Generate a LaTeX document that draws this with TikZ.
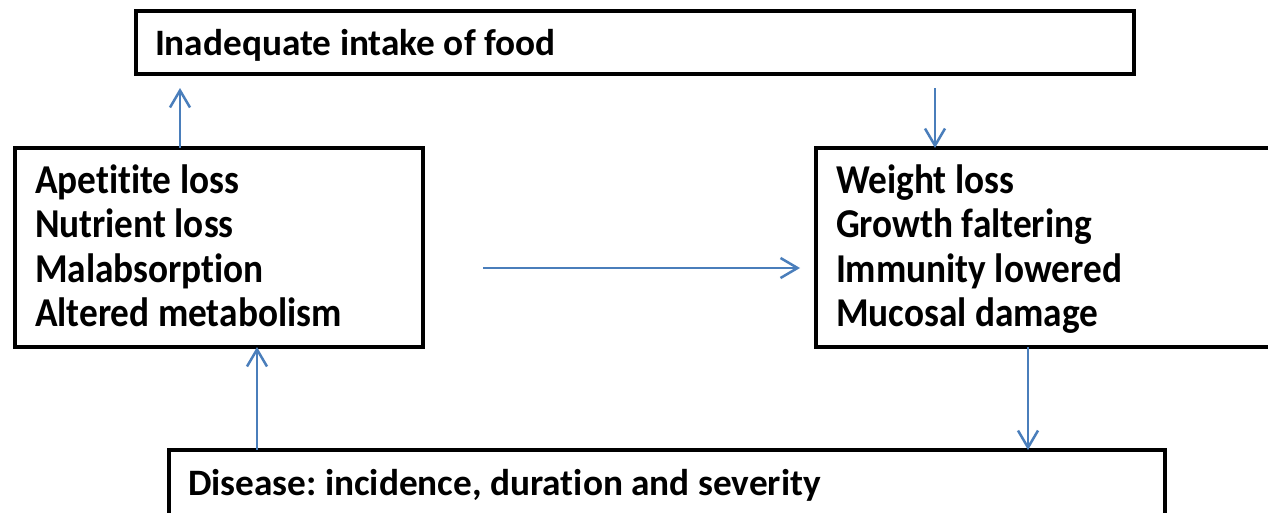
\documentclass[tikz,border=0pt]{standalone}
\usepackage{fontspec}
\setmainfont[Ligatures=NoCommon]{Carlito}
\newfontfamily\narrowfont[Ligatures=NoCommon, FakeStretch=0.91]{Carlito}
\usetikzlibrary{arrows.meta}
\definecolor{arrowblue}{HTML}{4A7EBB}
\tikzset{
  box/.style={draw=black, line width=4.5pt, rectangle, inner sep=0pt, outer sep=0pt},
  bigtxt/.style={inner sep=0pt, outer sep=0pt, align=left, font=\narrowfont\bfseries\fontsize{41}{44.5}\selectfont},
  midtxt/.style={inner sep=0pt, outer sep=0pt, font=\bfseries\fontsize{37.3}{40}\selectfont},
  arr/.style={draw=arrowblue, line width=2.5pt, -{Straight Barb[length=17pt, width=20pt, line width=2.5pt]}}
}
\frenchspacing
\begin{document}
\begin{tikzpicture}[x=1pt,y=-1pt]
\useasboundingbox[fill=white] (0,0) rectangle (1268,512);
% boxes
\node[box, minimum width=998pt, minimum height=63pt, anchor=north west] (top) at (136,11) {};
\node[box, minimum width=408pt, minimum height=199pt, anchor=north west] (left) at (15,148) {};
\node[box, minimum width=490pt, minimum height=199pt, anchor=north west] (right) at (816,148) {};
\node[box, minimum width=996pt, minimum height=90pt, anchor=north west] (bottom) at (169,450) {};
% texts
\node[midtxt, anchor=base west] (toptext) at (155,55) {Inadequate intake of food};
\node[bigtxt, anchor=north west] (lefttext) at (35,164.5) {Apetitite loss\\Nutrient loss\\Malabsorption\\Altered metabolism};
\node[bigtxt, anchor=north west] (righttext) at (836,164.5) {Weight loss\\Growth faltering\\Immunity lowered\\Mucosal damage};
\node[midtxt, anchor=base west] (bottomtext) at (188,495) {Disease: incidence, duration and severity};
% arrow guide coordinates
\coordinate (xa) at (180,0);
\coordinate (ya) at (0,88);
\coordinate (xb) at (935,0);
\coordinate (hs) at (483,268);
\coordinate (he) at (800,268);
\coordinate (xc) at (257,0);
\coordinate (xd) at (1028,0);
% arrows
\draw[arr] (left.north -| xa) -- (xa |- ya);
\draw[arr] (xb |- ya) -- (right.north -| xb);
\draw[arr] (hs) -- (he);
\draw[arr] (bottom.north -| xc) -- (left.south -| xc);
\draw[arr] (right.south -| xd) -- (bottom.north -| xd);
\end{tikzpicture}
\end{document}
